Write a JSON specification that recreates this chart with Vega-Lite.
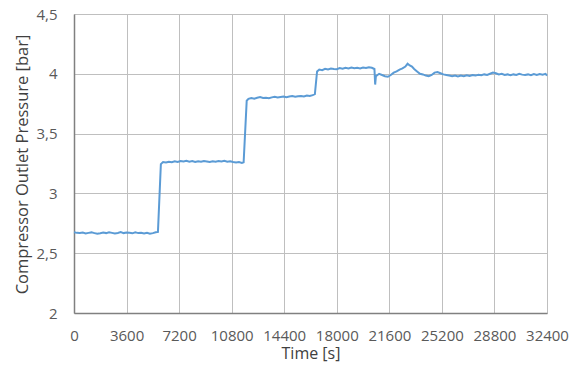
{
"$schema":"https://vega.github.io/schema/vega-lite/v6.json",
"width":473,"height":299,
"autosize":{"type":"none"},
"padding":{"left":74,"top":14,"right":22,"bottom":59},
"background":"white",
"config":{"view":{"stroke":null},"font":"Open Sans"},
"data":{"values":[
{"t":0,"p":2.675},{"t":200,"p":2.67},{"t":400,"p":2.668},{"t":600,"p":2.672},{"t":800,"p":2.665},{"t":1000,"p":2.67},{"t":1200,"p":2.674},{"t":1400,"p":2.668},{"t":1600,"p":2.662},{"t":1800,"p":2.666},{"t":2000,"p":2.672},{"t":2200,"p":2.668},{"t":2400,"p":2.675},{"t":2600,"p":2.67},{"t":2800,"p":2.665},{"t":3000,"p":2.669},{"t":3200,"p":2.676},{"t":3400,"p":2.668},{"t":3600,"p":2.672},{"t":3800,"p":2.67},{"t":4000,"p":2.666},{"t":4200,"p":2.674},{"t":4400,"p":2.668},{"t":4600,"p":2.671},{"t":4800,"p":2.665},{"t":5000,"p":2.67},{"t":5200,"p":2.662},{"t":5400,"p":2.668},{"t":5600,"p":2.675},{"t":5750,"p":2.678},
{"t":5950,"p":3.245},
{"t":6100,"p":3.262},{"t":6300,"p":3.258},{"t":6500,"p":3.265},{"t":6700,"p":3.26},{"t":6900,"p":3.268},{"t":7100,"p":3.262},{"t":7300,"p":3.27},{"t":7500,"p":3.266},{"t":7700,"p":3.272},{"t":7900,"p":3.265},{"t":8100,"p":3.27},{"t":8300,"p":3.262},{"t":8500,"p":3.268},{"t":8700,"p":3.264},{"t":8900,"p":3.27},{"t":9100,"p":3.266},{"t":9300,"p":3.262},{"t":9500,"p":3.268},{"t":9700,"p":3.264},{"t":9900,"p":3.27},{"t":10100,"p":3.266},{"t":10300,"p":3.272},{"t":10500,"p":3.265},{"t":10700,"p":3.268},{"t":10900,"p":3.262},{"t":11100,"p":3.258},{"t":11300,"p":3.262},{"t":11500,"p":3.255},{"t":11620,"p":3.26},
{"t":11830,"p":3.775},
{"t":11950,"p":3.79},{"t":12150,"p":3.798},{"t":12350,"p":3.792},{"t":12550,"p":3.8},{"t":12750,"p":3.805},{"t":12950,"p":3.798},{"t":13150,"p":3.8},{"t":13350,"p":3.795},{"t":13550,"p":3.803},{"t":13750,"p":3.808},{"t":13950,"p":3.802},{"t":14150,"p":3.806},{"t":14350,"p":3.81},{"t":14550,"p":3.805},{"t":14750,"p":3.81},{"t":14950,"p":3.814},{"t":15150,"p":3.808},{"t":15350,"p":3.812},{"t":15550,"p":3.815},{"t":15750,"p":3.81},{"t":15950,"p":3.818},{"t":16150,"p":3.814},{"t":16350,"p":3.822},{"t":16500,"p":3.83},
{"t":16650,"p":4.02},
{"t":16800,"p":4.035},{"t":17000,"p":4.03},{"t":17200,"p":4.042},{"t":17400,"p":4.036},{"t":17600,"p":4.044},{"t":17800,"p":4.04},{"t":18000,"p":4.038},{"t":18200,"p":4.048},{"t":18400,"p":4.042},{"t":18600,"p":4.05},{"t":18800,"p":4.045},{"t":19000,"p":4.052},{"t":19200,"p":4.046},{"t":19400,"p":4.05},{"t":19600,"p":4.044},{"t":19800,"p":4.052},{"t":20000,"p":4.048},{"t":20200,"p":4.055},{"t":20400,"p":4.05},{"t":20580,"p":4.04},{"t":20630,"p":3.91},{"t":20680,"p":3.98},
{"t":20900,"p":4.0},{"t":21100,"p":3.99},{"t":21300,"p":3.98},{"t":21500,"p":3.975},{"t":21700,"p":3.99},{"t":21900,"p":4.01},{"t":22100,"p":4.02},{"t":22300,"p":4.035},{"t":22500,"p":4.045},{"t":22700,"p":4.06},{"t":22850,"p":4.085},{"t":23000,"p":4.07},{"t":23150,"p":4.06},{"t":23300,"p":4.04},{"t":23500,"p":4.02},{"t":23700,"p":4.0},{"t":23900,"p":3.995},{"t":24100,"p":3.985},{"t":24300,"p":3.98},{"t":24500,"p":3.99},{"t":24700,"p":4.01},{"t":24900,"p":4.015},{"t":25100,"p":4.005},{"t":25300,"p":3.995},{"t":25500,"p":3.99},{"t":25700,"p":3.985},{"t":25900,"p":3.98},{"t":26100,"p":3.985},{"t":26300,"p":3.978},{"t":26500,"p":3.985},{"t":26700,"p":3.98},{"t":26900,"p":3.988},{"t":27100,"p":3.982},{"t":27300,"p":3.99},{"t":27500,"p":3.985},{"t":27700,"p":3.992},{"t":27900,"p":3.988},{"t":28100,"p":3.995},{"t":28300,"p":3.99},{"t":28500,"p":4.0},{"t":28700,"p":4.01},{"t":28900,"p":4.005},{"t":29100,"p":3.995},{"t":29300,"p":4.0},{"t":29500,"p":3.99},{"t":29700,"p":3.995},{"t":29900,"p":3.988},{"t":30100,"p":3.995},{"t":30300,"p":3.99},{"t":30500,"p":4.0},{"t":30700,"p":3.993},{"t":30900,"p":3.99},{"t":31100,"p":3.995},{"t":31300,"p":3.988},{"t":31500,"p":3.997},{"t":31700,"p":3.99},{"t":31900,"p":3.998},{"t":32100,"p":3.992},{"t":32300,"p":4.0},{"t":32400,"p":3.985}
]},
"mark":{"type":"line","color":"#5B9BD5","strokeWidth":2},
"encoding":{
"x":{"field":"t","type":"quantitative","scale":{"domain":[0,32400],"nice":false,"zero":false},
"axis":{"values":[0,3600,7200,10800,14400,18000,21600,25200,28800,32400],"format":"d","title":"Time [s]","grid":true,"gridColor":"#bfbfbf","gridWidth":1,"domainColor":"#808080","domainWidth":1.5,"ticks":false,"labelBaseline":"alphabetic","labelPadding":27,"labelFontSize":15,"labelColor":"#595959","labelFlush":false,"labelOverlap":false,"titleFontSize":16,"titleFontWeight":"normal","titleColor":"#404040","titleBaseline":"alphabetic","titleY":45}},
"y":{"field":"p","type":"quantitative","scale":{"domain":[2,4.5],"nice":false,"zero":false},
"axis":{"values":[2,2.5,3,3.5,4,4.5],"labelExpr":"replace(format(datum.value,'~g'),'.',',')","title":"Compressor Outlet Pressure [bar]","grid":true,"gridColor":"#bfbfbf","gridWidth":1,"domainColor":"#808080","domainWidth":1.5,"ticks":false,"labelPadding":17,"labelFontSize":15,"labelColor":"#595959","labelFlush":false,"labelOverlap":false,"titleFontSize":16.5,"titleFontWeight":"normal","titleColor":"#404040","titleBaseline":"middle","titleX":-52,"titleY":150}}
}
}
